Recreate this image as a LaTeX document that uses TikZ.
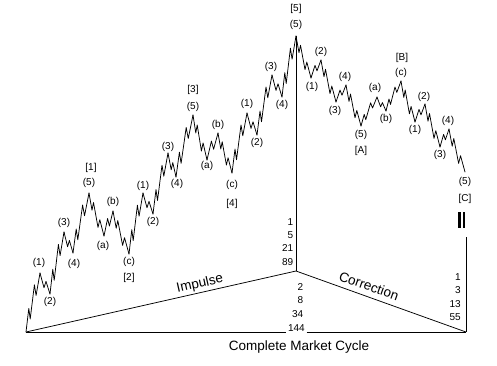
\documentclass[tikz,border=0pt]{standalone}
\usepackage{fontspec}
\setmainfont{Liberation Sans}
\usetikzlibrary{calc}
\tikzset{
  wave/.style={line width=0.75pt, line join=round, line cap=round},
  axisline/.style={line width=0.75pt},
  lbl/.style={font=\fontsize{10}{12}\selectfont, inner sep=0pt},
  num/.style={font=\fontsize{10}{12}\selectfont, inner sep=0pt, anchor=east},
  big/.style={font=\fontsize{13.5}{16}\selectfont, inner sep=0pt}
}
\newcommand\wfive[2]{\draw[wave] let \p1=(#1), \p2=(#2) in (\p1)
  -- ++({0.2*(\x2-\x1)},{0.4*(\y2-\y1)})
  -- ++({0.1*(\x2-\x1)},{-0.18*(\y2-\y1)})
  -- ++({0.3*(\x2-\x1)},{0.58*(\y2-\y1)})
  -- ++({0.12*(\x2-\x1)},{-0.18*(\y2-\y1)})
  -- (\p2);}
\newcommand\wthree[2]{\draw[wave] let \p1=(#1), \p2=(#2) in (\p1)
  -- ++({0.4*(\x2-\x1)},{0.7*(\y2-\y1)})
  -- ++({0.2*(\x2-\x1)},{-0.3*(\y2-\y1)})
  -- (\p2);}
\begin{document}
\begin{tikzpicture}[x=1pt,y=-1pt]
\useasboundingbox (0,0) rectangle (497,365);
% pivots
\coordinate (O) at (26,332);
\coordinate (i1) at (40,273);
\coordinate (i2) at (50,294);
\coordinate (i3) at (64,232);
\coordinate (i4) at (73,253);
\coordinate (I1) at (89,193);
\coordinate (ia) at (104,236);
\coordinate (ib) at (113,211);
\coordinate (I2) at (129,254);
\coordinate (j1) at (143,193);
\coordinate (j2) at (153,214);
\coordinate (j3) at (168,153);
\coordinate (j4) at (176,177);
\coordinate (I3) at (193,115);
\coordinate (ka) at (207,160);
\coordinate (kb) at (218,133);
\coordinate (I4) at (232,173);
\coordinate (l1) at (247,113);
\coordinate (l2) at (257,135);
\coordinate (l3) at (272,75);
\coordinate (l4) at (282,97);
\coordinate (I5) at (296,36);
\coordinate (m1) at (311,78);
\coordinate (m2) at (321,60);
\coordinate (m3) at (336,102);
\coordinate (m4) at (346,85);
\coordinate (A) at (361,126);
\coordinate (na) at (377,97);
\coordinate (nb) at (386,111);
\coordinate (B) at (401,81);
\coordinate (p1) at (415,122);
\coordinate (p2) at (425,104);
\coordinate (p3) at (440,147);
\coordinate (p4) at (449,129);
\coordinate (C) at (465,172);
% frame points
\coordinate (M) at (296,271);
\coordinate (R0) at (466,332);
\coordinate (Rtop) at (466,237);
% waves
\wfive{O}{i1}\wthree{i1}{i2}\wfive{i2}{i3}\wthree{i3}{i4}\wfive{i4}{I1}
\wfive{I1}{ia}\wthree{ia}{ib}\wfive{ib}{I2}
\wfive{I2}{j1}\wthree{j1}{j2}\wfive{j2}{j3}\wthree{j3}{j4}\wfive{j4}{I3}
\wfive{I3}{ka}\wthree{ka}{kb}\wfive{kb}{I4}
\wfive{I4}{l1}\wthree{l1}{l2}\wfive{l2}{l3}\wthree{l3}{l4}\wfive{l4}{I5}
\wfive{I5}{m1}\wthree{m1}{m2}\wfive{m2}{m3}\wthree{m3}{m4}\wfive{m4}{A}
\wfive{A}{na}\wthree{na}{nb}\wfive{nb}{B}
\wfive{B}{p1}\wthree{p1}{p2}\wfive{p2}{p3}\wthree{p3}{p4}\wfive{p4}{C}
% labels
\node[lbl] (L1) at (91,168) {[1]};
\node[lbl] (L1a) at (89,183) {(5)};
\node[lbl] (L1b) at (64,223) {(3)};
\node[lbl] (L1c) at (39,263) {(1)};
\node[lbl] (L1d) at (50,302) {(2)};
\node[lbl] (L1e) at (74,264) {(4)};
\node[lbl] (L2a) at (103,246) {(a)};
\node[lbl] (L2b) at (113,202) {(b)};
\node[lbl] (L2c) at (129,262) {(c)};
\node[lbl] (L2) at (129,278) {[2]};
\node[lbl] (L3a) at (143,186) {(1)};
\node[lbl] (L3b) at (153,222) {(2)};
\node[lbl] (L3c) at (168,147) {(3)};
\node[lbl] (L3d) at (177,184) {(4)};
\node[lbl] (L3e) at (193,107) {(5)};
\node[lbl] (L3) at (193,90) {[3]};
\node[lbl] (L4a) at (207,166) {(a)};
\node[lbl] (L4b) at (218,125) {(b)};
\node[lbl] (L4c) at (232,185) {(c)};
\node[lbl] (L4) at (232,204) {[4]};
\node[lbl] (L5a) at (247,104) {(1)};
\node[lbl] (L5b) at (257,143) {(2)};
\node[lbl] (L5c) at (271,67) {(3)};
\node[lbl] (L5d) at (282,105) {(4)};
\node[lbl] (L5e) at (296,25) {(5)};
\node[lbl] (L5) at (296,9) {[5]};
\node[lbl] (LAa) at (312,87) {(1)};
\node[lbl] (LAb) at (321,52) {(2)};
\node[lbl] (LAc) at (335,111) {(3)};
\node[lbl] (LAd) at (345,77) {(4)};
\node[lbl] (LAe) at (361,135) {(5)};
\node[lbl] (LA) at (361,151) {[A]};
\node[lbl] (LBa) at (375,88) {(a)};
\node[lbl] (LBb) at (386,119) {(b)};
\node[lbl] (LBc) at (401,73) {(c)};
\node[lbl] (LB) at (402,58) {[B]};
\node[lbl] (LCa) at (415,130) {(1)};
\node[lbl] (LCb) at (424,97) {(2)};
\node[lbl] (LCc) at (440,155) {(3)};
\node[lbl] (LCd) at (448,121) {(4)};
\node[lbl] (LCe) at (465,182) {(5)};
\node[lbl] (LC) at (465,199) {[C]};
% equals sign
\fill (458.2,212) rectangle (460.8,228);
\fill (462.7,212) rectangle (465.3,228);
% numbers
\node[num] (n1) at (293.5,222) {1};
\node[num] (n5) at (293.5,235) {5};
\node[num] (n21) at (293.5,248) {21};
\node[num] (n89) at (293.5,262) {89};
\node[num] (n2) at (303.5,287) {2};
\node[num] (n8) at (303.5,300) {8};
\node[num] (n34) at (303.5,314) {34};
\node[num] (n144) at (305,328) {144};
\node[num] (r1) at (461,277) {1};
\node[num] (r3) at (461,290) {3};
\node[num] (r13) at (461,304) {13};
\node[num] (r55) at (461,317) {55};
% frame
\draw[axisline] (O) -- ($(n144.west|-O)+(-1.5,0)$);
\draw[axisline] ($(n144.east|-O)+(1.5,0)$) -- (R0);
\draw[axisline] (O) -- (M) -- (R0);
\draw[axisline] (I5) -- (M);
\draw[axisline] (Rtop) -- (R0);
\node[big, rotate=12.7] (imp) at (200,284) {Impulse};
\node[big, rotate=-19.7] (cor) at (369,286) {Correction};
\node[big] (cmc) at (299,347) {Complete Market Cycle};
\end{tikzpicture}
\end{document}
